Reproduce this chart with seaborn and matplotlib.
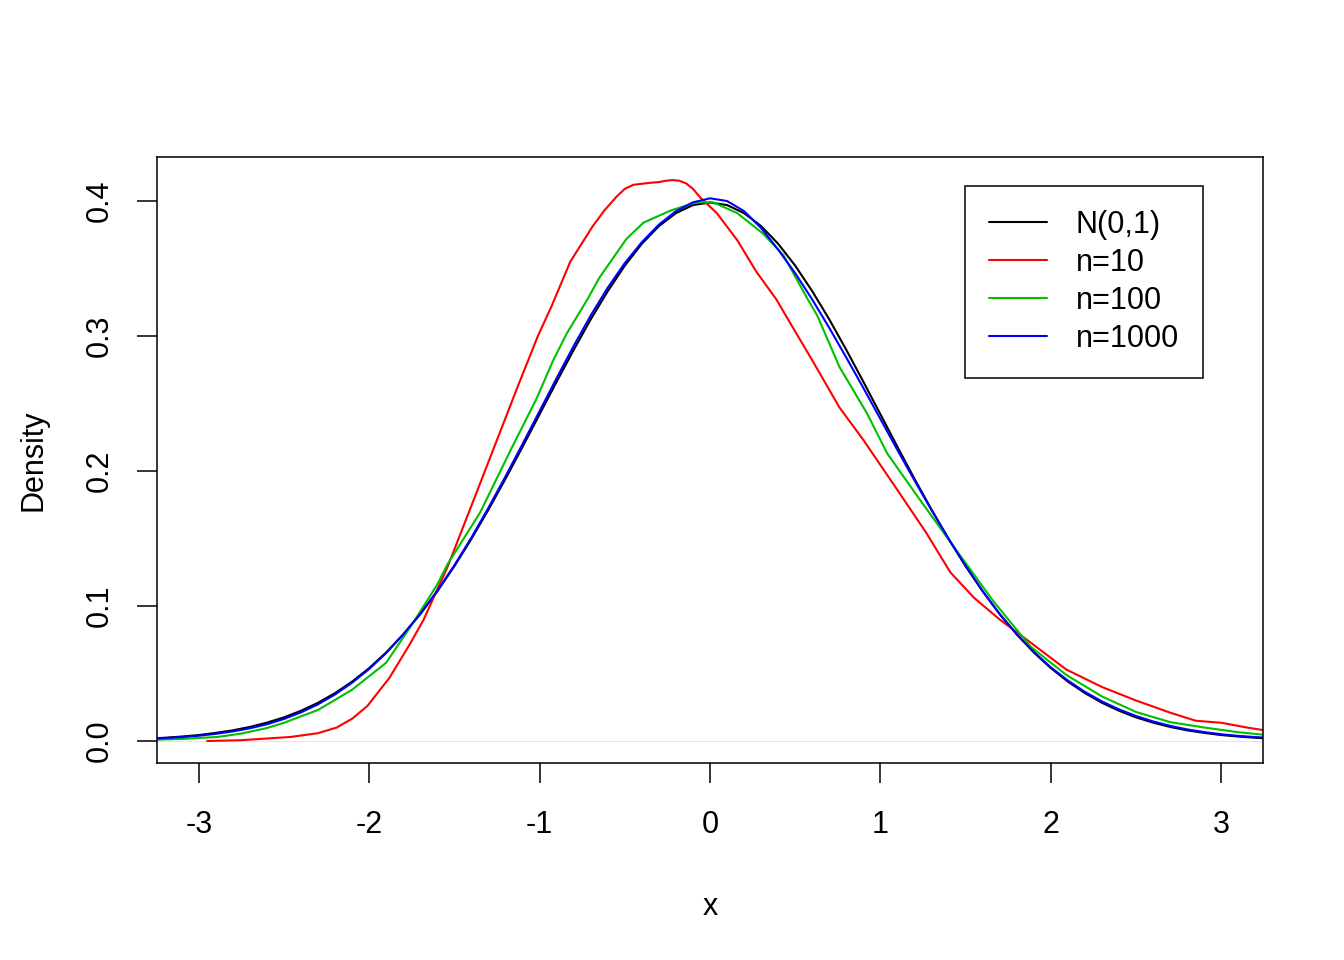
import numpy as np
import pandas as pd
import matplotlib
matplotlib.use('Agg')
import matplotlib.pyplot as plt
import seaborn as sns

# ------------------------------------------------------------
# 数据
# ------------------------------------------------------------
LABELS = ['N(0,1)', 'n=10', 'n=100', 'n=1000']
COLORS = ['#000000', '#ff0000', '#00c000', '#0000ff']

# N(0,1)
x_norm = [-3.3, -3.2, -3.1, -3.0, -2.9, -2.8, -2.7, -2.6, -2.5, -2.4, -2.3, -2.2,
          -2.1, -2.0, -1.9, -1.8, -1.7, -1.6, -1.5, -1.4, -1.3, -1.2, -1.1, -1.0,
          -0.9, -0.8, -0.7, -0.6, -0.5, -0.4, -0.3, -0.2, -0.1, 0.0, 0.1, 0.2,
          0.3, 0.4, 0.5, 0.6, 0.7, 0.8, 0.9, 1.0, 1.1, 1.2, 1.3, 1.4,
          1.5, 1.6, 1.7, 1.8, 1.9, 2.0, 2.1, 2.2, 2.3, 2.4, 2.5, 2.6,
          2.7, 2.8, 2.9, 3.0, 3.1, 3.2, 3.3]
y_norm = [0.0017, 0.0024, 0.0033, 0.0044, 0.0060, 0.0079, 0.0104, 0.0136, 0.0175, 0.0224, 0.0283, 0.0355,
          0.0440, 0.0540, 0.0656, 0.0790, 0.0940, 0.1109, 0.1295, 0.1497, 0.1714, 0.1942, 0.2179, 0.2420,
          0.2661, 0.2897, 0.3123, 0.3332, 0.3521, 0.3683, 0.3814, 0.3910, 0.3970, 0.3989, 0.3970, 0.3910,
          0.3814, 0.3683, 0.3521, 0.3332, 0.3123, 0.2897, 0.2661, 0.2420, 0.2179, 0.1942, 0.1714, 0.1497,
          0.1295, 0.1109, 0.0940, 0.0790, 0.0656, 0.0540, 0.0440, 0.0355, 0.0283, 0.0224, 0.0175, 0.0136,
          0.0104, 0.0079, 0.0060, 0.0044, 0.0033, 0.0024, 0.0017]

# n=10
x_n10 = [-2.95, -2.75, -2.46, -2.30, -2.19, -2.10, -2.01, -1.88, -1.76, -1.68, -1.54, -1.37,
         -1.25, -1.13, -1.01, -0.93, -0.82, -0.69, -0.62, -0.55, -0.50, -0.45, -0.35, -0.30,
         -0.26, -0.22, -0.18, -0.14, -0.10, -0.06, 0.04, 0.16, 0.27, 0.39, 0.45, 0.60,
         0.76, 0.90, 1.11, 1.27, 1.41, 1.55, 1.70, 1.88, 2.09, 2.30, 2.50, 2.70,
         2.85, 3.00, 3.15, 3.30]
y_n10 = [0.000, 0.0006, 0.003, 0.0058, 0.010, 0.0165, 0.026, 0.047, 0.072, 0.090, 0.129, 0.184,
         0.223, 0.262, 0.300, 0.322, 0.355, 0.381, 0.393, 0.403, 0.409, 0.412, 0.4135, 0.414,
         0.415, 0.4155, 0.415, 0.413, 0.409, 0.403, 0.391, 0.371, 0.348, 0.327, 0.314, 0.282,
         0.247, 0.223, 0.184, 0.154, 0.125, 0.106, 0.090, 0.073, 0.053, 0.040, 0.030, 0.021,
         0.015, 0.0135, 0.010, 0.007]

# n=100
x_n100 = [-3.3, -3.1, -2.89, -2.75, -2.6, -2.5, -2.3, -2.1, -1.9, -1.74, -1.6, -1.54,
          -1.35, -1.16, -1.02, -0.92, -0.84, -0.72, -0.65, -0.49, -0.39, -0.23, -0.08, 0.02,
          0.16, 0.31, 0.43, 0.57, 0.63, 0.76, 0.92, 1.04, 1.23, 1.43, 1.66, 1.88,
          2.09, 2.3, 2.5, 2.7, 2.9, 3.1, 3.3]
y_n100 = [0.0008, 0.0015, 0.003, 0.0055, 0.0096, 0.0135, 0.023, 0.038, 0.058, 0.088, 0.116, 0.131,
          0.169, 0.218, 0.253, 0.282, 0.302, 0.327, 0.343, 0.372, 0.384, 0.393, 0.399, 0.399,
          0.391, 0.376, 0.360, 0.328, 0.315, 0.277, 0.243, 0.213, 0.179, 0.144, 0.104, 0.070,
          0.049, 0.033, 0.0215, 0.014, 0.010, 0.0065, 0.004]

# n=1000
x_n1000 = x_norm
y_n1000 = [0.0015, 0.0021, 0.0029, 0.0039, 0.0053, 0.0071, 0.0094, 0.0124, 0.0163, 0.0212, 0.0272, 0.0345,
           0.0432, 0.0533, 0.0652, 0.0789, 0.0942, 0.1113, 0.1302, 0.1507, 0.1728, 0.1960, 0.2200, 0.2444,
           0.2688, 0.2926, 0.3152, 0.3358, 0.3540, 0.3695, 0.3825, 0.3925, 0.3990, 0.4020, 0.4000, 0.3925,
           0.3800, 0.3640, 0.3465, 0.3270, 0.3060, 0.2840, 0.2615, 0.2385, 0.2155, 0.1930, 0.1710, 0.1498,
           0.1297, 0.1110, 0.0940, 0.0790, 0.0660, 0.0546, 0.0448, 0.0364, 0.0293, 0.0234, 0.0185, 0.0145,
           0.0112, 0.0086, 0.0066, 0.0050, 0.0038, 0.0029, 0.0022]

X_TICKS = [-3, -2, -1, 0, 1, 2, 3]
Y_TICKS = [0.0, 0.1, 0.2, 0.3, 0.4]

# ------------------------------------------------------------
# 组装长表
# ------------------------------------------------------------
frames = []
for lab, xs, ys in zip(LABELS, [x_norm, x_n10, x_n100, x_n1000],
                       [y_norm, y_n10, y_n100, y_n1000]):
    frames.append(pd.DataFrame({'x': xs, 'Density': ys, 'series': lab}))
df = pd.concat(frames, ignore_index=True)

sns.set_style('white')
plt.rcParams['font.family'] = ['Liberation Sans', 'DejaVu Sans']
plt.rcParams['text.color'] = 'black'
plt.rcParams['axes.labelcolor'] = 'black'
plt.rcParams['xtick.color'] = 'black'
plt.rcParams['ytick.color'] = 'black'
FS = 22

fig = plt.figure(figsize=(13.44, 9.6), dpi=100)
ax = fig.add_axes([157 / 1344, 1 - 763 / 960, 1106 / 1344, 606 / 960])

# 零线
ax.axhline(0, color='#e6e6e6', lw=0.8, zorder=0)

sns.lineplot(data=df, x='x', y='Density', hue='series', hue_order=LABELS,
             palette=COLORS, estimator=None, sort=True, lw=1.5, ax=ax, legend=False)

ax.set_xlim(-3.245, 3.245)
ax.set_ylim(-0.0163, 0.4326)
ax.set_xticks(X_TICKS)
ax.set_xticklabels([str(v) for v in X_TICKS])
ax.set_yticks(Y_TICKS)
ax.set_yticklabels([f'{v:.1f}' for v in Y_TICKS], rotation=90, va='center')

ax.tick_params(axis='both', direction='out', length=14.5, width=1.1,
               color='black', labelcolor='black', labelsize=FS, bottom=True, left=True)
ax.tick_params(axis='x', pad=19)
ax.tick_params(axis='y', pad=16)
for s in ax.spines.values():
    s.set_color('black')
    s.set_linewidth(1.1)

ax.set_xlabel('x', fontsize=FS, labelpad=38, color='black')
ax.set_ylabel('Density', fontsize=FS, labelpad=26, color='black')

handles = [plt.Line2D([], [], color=c, lw=1.5) for c in COLORS]
leg = ax.legend(handles, LABELS, loc='upper right', bbox_to_anchor=(0.9458, 0.952),
                borderaxespad=0, fontsize=FS, frameon=True, fancybox=False,
                framealpha=1, edgecolor='black', handlelength=1.9,
                handletextpad=0.95, labelspacing=0.26, borderpad=0.78)
leg.get_frame().set_linewidth(1.1)
for t in leg.get_texts():
    t.set_color('black')

fig.savefig('out.png', dpi=100)
plt.close(fig)
